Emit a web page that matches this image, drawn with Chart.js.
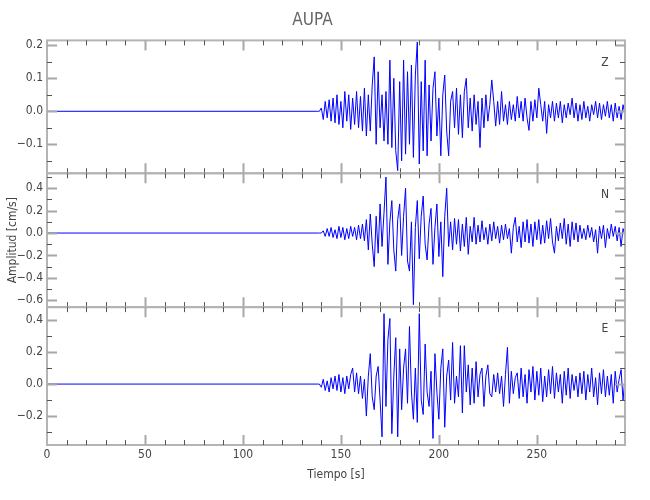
<!DOCTYPE html>
<html>
<head>
<meta charset="utf-8">
<script src="https://cdn.jsdelivr.net/npm/chart.js@4.4.1/dist/chart.umd.min.js"></script>
<style>
  html, body { margin: 0; padding: 0; background: #fff; }
  #wrap { width: 650px; height: 500px; }
</style>
</head>
<body>
<div id="wrap"><canvas id="seis" width="650" height="500"></canvas></div>
<script>
// station AUPA, three components, 1 s samples from START onwards (quiet before)
const START = 138;
const QUIET_T = 0;

const zVals = [
  0, 0, 0.01, -0.025, 0.03, -0.02, 0.035, -0.03, 0.04, -0.035,
  0.05, -0.04, 0.03, -0.05, 0.06, -0.03, 0.05, -0.055, 0.04, -0.04,
  0.06, -0.05, 0.045, -0.06, 0.07, -0.075, 0.05, -0.06, 0.08, 0.165,
  -0.10, 0.12, -0.05, 0.05, -0.09, 0.06, -0.10, 0.155, -0.11, 0.10,
  -0.12, -0.18, 0.09, -0.15, 0.155, -0.13, 0.12, -0.10, 0.14, -0.14,
  0.11, 0.21, -0.16, 0.09, -0.12, 0.155, -0.135, 0.08, -0.09, 0.07,
  0.12, -0.075, 0.04, -0.135, 0.05, 0.11, -0.06, -0.135, 0.03, 0.06,
  -0.05, 0.07, -0.07, 0.05, -0.08, 0.06, 0.10, -0.05, 0.04, -0.06,
  0.05, -0.04, 0.03, -0.11, 0.04, -0.05, 0.05, -0.03, 0.02, 0.095,
  0.03, -0.045, 0.03, -0.04, 0.06, -0.03, 0.02, -0.04, 0.03, -0.025,
  0.02, -0.03, 0.045, -0.02, 0.03, -0.03, 0.04, -0.02, -0.058, 0.03,
  -0.03, 0.035, -0.02, 0.07, 0.02, -0.03, 0.03, -0.067, 0.02, -0.02,
  0.03, -0.03, 0.025, -0.02, 0.03, -0.035, 0.02, -0.02, 0.025, -0.01,
  0.04, -0.02, 0.025, -0.03, 0.02, -0.025, 0.03, -0.02, 0.015, -0.03,
  0.02, -0.01, 0.03, -0.02, 0.025, -0.025, 0.02, -0.015, 0.03, -0.02,
  0.02, -0.03, 0.025, -0.02, 0.015, -0.025, 0.02, -0.01
];

const nVals = [
  0, 0, 0, 0.02, -0.03, 0.04, -0.03, 0.05, -0.04, 0.03,
  -0.05, 0.06, -0.04, 0.05, -0.06, 0.04, -0.05, 0.06, -0.03, 0.05,
  -0.06, 0.07, -0.05, 0.08, -0.07, 0.12, -0.15, 0.17, -0.10, -0.30,
  0.15, -0.18, 0.26, -0.12, 0.18, 0.50, -0.28, 0.10, 0.29, -0.15,
  -0.34, 0.12, 0.26, -0.20, 0.15, 0.40, -0.25, -0.34, 0.10, -0.64,
  0.05, 0.29, -0.23, 0.15, 0.33, -0.10, -0.24, 0.08, 0.22, -0.28,
  0.05, 0.26, -0.21, 0.10, -0.39, 0.15, 0.40, -0.12, 0.10, -0.15,
  0.13, -0.10, 0.12, -0.16, 0.08, -0.12, 0.14, -0.19, 0.06, -0.08,
  0.14, -0.10, 0.07, -0.08, 0.11, -0.06, 0.05, -0.10, 0.08, -0.07,
  0.10, -0.05, 0.06, -0.09, 0.07, -0.06, 0.08, -0.05, 0.04, -0.18,
  0.05, 0.14, -0.08, 0.06, -0.13, 0.10, -0.08, 0.12, -0.09, 0.08,
  -0.12, 0.10, -0.06, 0.12, -0.10, 0.07, -0.09, 0.11, -0.05, 0.13,
  -0.08, -0.18, 0.06, -0.07, 0.09, -0.05, 0.13, -0.10, 0.08, -0.12,
  0.10, -0.06, 0.09, -0.08, 0.07, -0.05, 0.04, -0.06, 0.07, -0.04,
  0.05, -0.08, 0.03, -0.18, 0.06, -0.05, 0.07, -0.13, 0.04, -0.05,
  0.08, -0.03, 0.06, -0.07, 0.05, -0.12, 0.04, -0.02
];

const eVals = [
  0, 0, -0.02, 0.03, -0.04, 0.02, -0.05, 0.04, -0.03, 0.05,
  -0.04, 0.06, -0.05, 0.04, -0.06, 0.05, -0.03, 0.06, 0.10, -0.05,
  0.07, -0.06, 0.05, -0.09, 0.03, -0.20, 0.05, 0.19, -0.08, -0.16,
  0.05, 0.11, -0.10, -0.33, 0.44, -0.14, 0.28, 0.41, -0.31, 0.05,
  0.29, -0.33, 0.22, -0.16, 0.10, 0.22, -0.12, 0.36, -0.05, -0.22,
  0.10, -0.24, 0.44, -0.10, -0.19, 0.25, -0.05, -0.14, 0.08, -0.34,
  0.19, -0.05, -0.22, 0.10, 0.22, -0.27, 0.05, 0.15, -0.10, 0.26,
  -0.12, 0.05, -0.08, 0.24, -0.18, 0.24, -0.05, 0.12, -0.13, 0.10,
  -0.12, 0.14, -0.08, 0.06, 0.10, -0.14, 0.05, 0.12, -0.06, -0.08,
  0.06, -0.05, 0.07, -0.06, 0.05, -0.14, 0.06, 0.23, -0.12, 0.08,
  -0.06, 0.04, 0.07, -0.09, 0.10, -0.08, 0.06, -0.12, 0.09, -0.05,
  0.11, -0.10, 0.08, -0.07, 0.10, -0.11, 0.05, -0.08, 0.09, -0.06,
  0.11, -0.09, 0.07, -0.05, 0.06, -0.12, 0.08, -0.07, 0.10, -0.09,
  0.06, -0.04, 0.05, -0.08, 0.07, -0.06, 0.08, -0.10, 0.06, -0.05,
  0.10, -0.08, 0.04, -0.13, 0.07, -0.06, 0.09, -0.08, 0.05, -0.07,
  0.06, -0.12, 0.08, -0.05, 0.03, 0.09, -0.10, 0.04
];

const zTicks = [-0.1, 0.0, 0.1, 0.2];
const nTicks = [-0.6, -0.4, -0.2, 0.0, 0.2, 0.4];
const eTicks = [-0.2, 0.0, 0.2, 0.4];
const xTicks = [0, 50, 100, 150, 200, 250];
const channels = ["Z", "N", "E"];

const FONT = "'Liberation Sans Narrow', 'DejaVu Sans Condensed', 'Roboto Condensed', 'Liberation Sans', sans-serif";
const BLUE = "#0000ff";
const FRAME = "#b4b4b4";

function trace(vals) {
  const pts = [{ x: QUIET_T, y: 0 }];
  vals.forEach((v, i) => pts.push({ x: START + i, y: v }));
  return pts;
}

function fmt(v) {
  const s = Math.abs(v).toFixed(1);
  return v < -1e-9 ? "\u2212" + s : s;
}

// panel setup: scale id, major ticks, minor step, channel letter
const panels = [
  { id: "yZ", ticks: zTicks, minor: 0.05, label: channels[0] },
  { id: "yN", ticks: nTicks, minor: 0.1, label: channels[1] },
  { id: "yE", ticks: eTicks, minor: 0.1, label: channels[2] },
];

function yScale(tickList, min, max, weight, title) {
  return {
    type: "linear",
    position: "left",
    stack: "seis",
    stackWeight: weight,
    min: min,
    max: max,
    grid: { display: false, drawTicks: false },
    border: { display: false },
    afterBuildTicks: (s) => { s.ticks = tickList.map((v) => ({ value: v })); },
    afterFit: (s) => { s.width = 47; },
    ticks: { padding: 4, color: "#444", font: { size: 12 }, autoSkip: false, callback: (v) => fmt(v) },
    title: title
      ? { display: true, text: title, color: "#444", font: { size: 12 }, padding: { top: 6, bottom: 0 } }
      : { display: false },
  };
}

// inward ticks + frame, drawn by hand like the original plot
const frameTicks = {
  id: "frameTicks",
  afterDraw(chart) {
    const ctx = chart.ctx;
    const a = chart.chartArea;
    const xs = chart.scales.x;
    ctx.save();
    panels.forEach((p) => {
      const s = chart.scales[p.id];
      const top = s.top, bot = s.bottom;
      ctx.strokeStyle = FRAME;
      ctx.lineWidth = 2;
      ctx.strokeRect(a.left, top, a.right - a.left, bot - top);

      const k0 = Math.ceil(s.min / p.minor - 1e-6);
      const k1 = Math.floor(s.max / p.minor + 1e-6);
      for (let k = k0; k <= k1; k++) {
        const v = k * p.minor;
        const y = Math.round(s.getPixelForValue(v)) + 0.5;
        const major = p.ticks.some((t) => Math.abs(t - v) < 1e-6);
        ctx.strokeStyle = major ? "#a8a8a8" : "#555";
        ctx.lineWidth = major ? 2 : 1;
        const L = major ? 10 : 5;
        ctx.beginPath();
        ctx.moveTo(a.left, y); ctx.lineTo(a.left + L, y);
        ctx.moveTo(a.right, y); ctx.lineTo(a.right - L, y);
        ctx.stroke();
      }
      for (let t = 10; t < xs.max; t += 10) {
        const x = Math.round(xs.getPixelForValue(t)) + 0.5;
        const major = t % 50 === 0;
        ctx.strokeStyle = major ? "#a8a8a8" : "#555";
        ctx.lineWidth = major ? 2 : 1;
        const L = major ? 10 : 5;
        ctx.beginPath();
        ctx.moveTo(x, top); ctx.lineTo(x, top + L);
        ctx.moveTo(x, bot); ctx.lineTo(x, bot - L);
        ctx.stroke();
      }
      ctx.fillStyle = "#444";
      ctx.font = "12px " + FONT;
      ctx.textAlign = "center";
      ctx.textBaseline = "middle";
      ctx.fillText(p.label, a.right - 20, top + 22);
    });
    ctx.restore();
  },
};

Chart.defaults.font.family = FONT;

new Chart(document.getElementById("seis"), {
  type: "line",
  data: {
    datasets: [
      { label: "Z", data: trace(zVals), yAxisID: "yZ" },
      { label: "N", data: trace(nVals), yAxisID: "yN" },
      { label: "E", data: trace(eVals), yAxisID: "yE" },
    ],
  },
  options: {
    responsive: false,
    animation: false,
    normalized: true,
    elements: {
      line: { borderColor: BLUE, borderWidth: 1, tension: 0 },
      point: { radius: 0 },
    },
    layout: { padding: { right: 25, left: 0, top: 0, bottom: 0 } },
    plugins: {
      legend: { display: false },
      tooltip: { enabled: false },
      title: {
        display: true,
        text: "AUPA",
        color: "#666",
        font: { size: 17, weight: "normal" },
        padding: { top: 10, bottom: 10 },
      },
    },
    scales: {
      x: {
        type: "linear",
        min: 0,
        max: 295,
        grid: { display: false, drawTicks: false },
        border: { display: false },
        afterBuildTicks: (s) => { s.ticks = xTicks.map((v) => ({ value: v })); },
        afterFit: (s) => { s.height = 55; },
        ticks: { padding: 3, color: "#444", font: { size: 12 }, maxRotation: 0 },
        title: { display: true, text: "Tiempo [s]", color: "#444", font: { size: 12 }, padding: { top: 0, bottom: 18 } },
      },
      // stacked axes are placed bottom-up, so the lowest panel comes first
      yE: yScale(eTicks, -0.381, 0.481, 138, null),
      yN: yScale(nTicks, -0.662, 0.534, 134, "Amplitud [cm/s]"),
      yZ: yScale(zTicks, -0.188, 0.215, 133, null),
    },
  },
  plugins: [frameTicks],
});
</script>
</body>
</html>
